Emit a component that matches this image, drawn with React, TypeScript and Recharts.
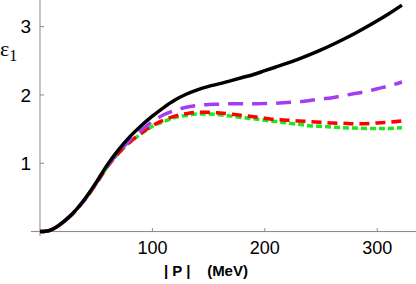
import React from 'react'
import { LineChart, Line, XAxis, YAxis, ReferenceLine } from 'recharts'

// |P| in MeV
const momenta = [0, 5, 10, 15, 20, 25, 30, 40, 50, 60, 70, 80, 90, 100, 110, 120, 130, 140, 150, 160, 170, 180, 190, 200, 210, 220, 230, 240, 250, 260, 270, 280, 290, 300, 310, 322]

const blackCurve = [0, 0.005, 0.025, 0.07, 0.13, 0.2, 0.28, 0.48, 0.72, 0.98, 1.2, 1.39, 1.55, 1.69, 1.815, 1.925, 2.01, 2.075, 2.125, 2.165, 2.21, 2.255, 2.3, 2.355, 2.41, 2.465, 2.525, 2.59, 2.66, 2.735, 2.815, 2.9, 2.99, 3.085, 3.185, 3.315]
const purpleCurve = [0, 0.005, 0.025, 0.07, 0.13, 0.2, 0.28, 0.47, 0.71, 0.96, 1.16, 1.34, 1.48, 1.61, 1.71, 1.775, 1.82, 1.845, 1.86, 1.865, 1.87, 1.87, 1.87, 1.875, 1.88, 1.89, 1.9, 1.92, 1.94, 1.96, 1.99, 2.02, 2.05, 2.09, 2.13, 2.19]
const redCurve = [0, 0.005, 0.025, 0.07, 0.13, 0.2, 0.28, 0.47, 0.7, 0.95, 1.15, 1.31, 1.44, 1.55, 1.63, 1.69, 1.725, 1.745, 1.745, 1.735, 1.72, 1.7, 1.68, 1.66, 1.64, 1.63, 1.62, 1.61, 1.6, 1.59, 1.585, 1.58, 1.58, 1.59, 1.6, 1.62]
const greenCurve = [0, 0.005, 0.025, 0.07, 0.13, 0.2, 0.28, 0.47, 0.7, 0.95, 1.15, 1.31, 1.43, 1.54, 1.61, 1.67, 1.7, 1.72, 1.72, 1.71, 1.69, 1.67, 1.65, 1.63, 1.61, 1.59, 1.57, 1.55, 1.54, 1.53, 1.52, 1.515, 1.51, 1.51, 1.51, 1.52]

const xTicks = [100, 200, 300]
const yTicks = [1, 2, 3]

const data = momenta.map((p, i) => ({
  p,
  black: blackCurve[i],
  purple: purpleCurve[i],
  red: redCurve[i],
  green: greenCurve[i],
}))

const axisColor = '#888'

export default function App() {
  return (
    <div style={{ position: 'absolute', left: 0, top: 0, width: 416, height: 284, background: '#fff' }}>
      <LineChart width={416} height={284} data={data} margin={{ top: 0, right: 0, bottom: 0, left: 0 }}>
        <XAxis
          dataKey='p'
          type='number'
          domain={[-8, 334.5]}
          allowDataOverflow
          ticks={xTicks}
          height={48}
          axisLine={false}
          tickLine={false}
          tickSize={0}
          tickMargin={5}
          tick={{ fill: '#000', fontSize: 18, fontFamily: 'Liberation Sans, Arial, sans-serif' }}
        />
        <YAxis
          type='number'
          domain={[-0.065, 3.39]}
          allowDataOverflow
          ticks={yTicks}
          width={31}
          axisLine={false}
          tickLine={false}
          tickSize={0}
          tickMargin={0}
          tick={{ fill: '#000', fontSize: 19, fontFamily: 'Liberation Sans, Arial, sans-serif' }}
        />
        <ReferenceLine x={0} stroke={axisColor} strokeWidth={1} />
        <ReferenceLine y={0} stroke={axisColor} strokeWidth={1} />
        {xTicks.map((t) => (
          <ReferenceLine key={'xt' + t} segment={[{ x: t, y: 0 }, { x: t, y: 0.05 }]} stroke={axisColor} />
        ))}
        {yTicks.map((t) => (
          <ReferenceLine key={'yt' + t} segment={[{ x: 0, y: t }, { x: 3.6, y: t }]} stroke={axisColor} />
        ))}
        <Line type='monotone' dataKey='green' stroke='#1de81d' strokeWidth={3.5} strokeDasharray='6 3' dot={false} isAnimationActive={false} />
        <Line type='monotone' dataKey='red' stroke='#ff0000' strokeWidth={3.5} strokeDasharray='10 6' dot={false} isAnimationActive={false} />
        <Line type='monotone' dataKey='purple' stroke='#a43cf0' strokeWidth={3.5} strokeDasharray='15 9' dot={false} isAnimationActive={false} />
        <Line type='monotone' dataKey='black' stroke='#000' strokeWidth={3.5} dot={false} isAnimationActive={false} />
      </LineChart>
      <div style={{ position: 'absolute', left: 0, top: 36, fontFamily: 'Liberation Serif, Times New Roman, serif', color: '#000', whiteSpace: 'nowrap' }}>
        <span style={{ fontSize: 22 }}>ε</span>
        <span style={{ fontSize: 16, position: 'relative', top: 5 }}>1</span>
      </div>
      <div style={{ position: 'absolute', left: 164, top: 262, fontFamily: 'Liberation Sans, Arial, sans-serif', fontWeight: 'bold', fontSize: 15, color: '#000', whiteSpace: 'pre' }}>
        {'| P |    (MeV)'}
      </div>
    </div>
  )
}
